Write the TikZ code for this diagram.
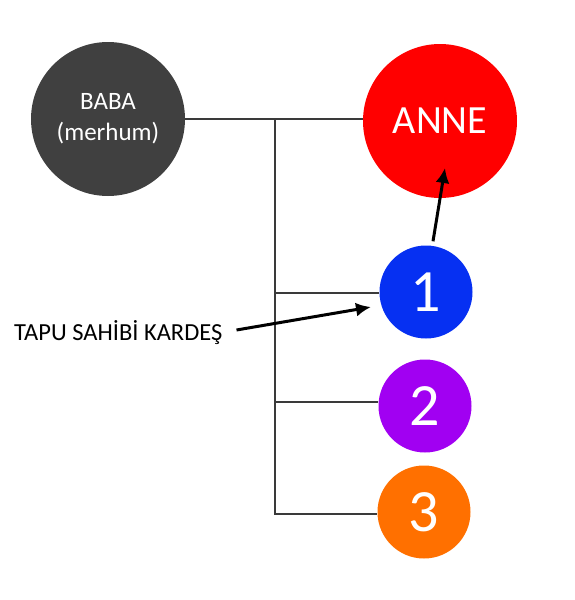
\documentclass[tikz,border=0pt]{standalone}
\usepackage{fontspec}
\setmainfont{Carlito}
\usetikzlibrary{arrows.meta}
\definecolor{babagray}{HTML}{404040}
\definecolor{annered}{HTML}{FF0000}
\definecolor{oneblue}{HTML}{0630F2}
\definecolor{twopurple}{HTML}{A100F2}
\definecolor{threeorange}{HTML}{FF7000}
\definecolor{linegray}{HTML}{3A3A3A}
\tikzset{
  person/.style={circle, inner sep=0pt, text=white, draw=none},
  big/.style={person, minimum size=154pt},
  small/.style={person, minimum size=93pt, font=\fontsize{60}{64}\selectfont},
  link/.style={draw=linegray, line width=2.8pt},
  pointer/.style={draw=black, line width=3pt, -{Latex[length=15pt,width=14pt]}},
}
\begin{document}
\begin{tikzpicture}[x=1pt,y=-1pt]
\useasboundingbox (0,0) rectangle (575,600);
\node[big, fill=babagray, align=center, font=\fontsize{25}{31}\selectfont] (baba) at (108,119) {BABA\\(merhum)};
\node[big, fill=annered, font=\fontsize{40}{44}\selectfont] (anne) at (440,121) {ANNE};
\node[small, fill=oneblue] (c1) at (426,292) {1};
\node[small, fill=twopurple] (c2) at (425,406) {2};
\node[small, fill=threeorange] (c3) at (424,512) {3};
\node[anchor=west, font=\fontsize{24.5}{28}\selectfont, inner sep=0pt] (tapu) at (14,333) {TAPU SAHİBİ KARDEŞ};
\coordinate (top) at (275,119);
\coordinate (j1) at (275,293);
\coordinate (j2) at (275,402);
\coordinate (j3) at (275,514);
\draw[link] (baba.east |- top) -- (top -| anne.west);
\draw[link, line cap=rect] (top) -- (j3);
\draw[link] (j1) -- (j1 -| c1.west);
\draw[link] (j2) -- (j2 -| c2.west);
\draw[link] (j3) -- (j3 -| c3.west);
\coordinate (tapuend) at (371,307);
\draw[pointer] ([xshift=14pt,yshift=3pt]tapu.east) -- (tapuend);
\coordinate (anneend) at (445,168);
\draw[pointer] (c1.north) ++(7,-4) -- (anneend);
\end{tikzpicture}
\end{document}
